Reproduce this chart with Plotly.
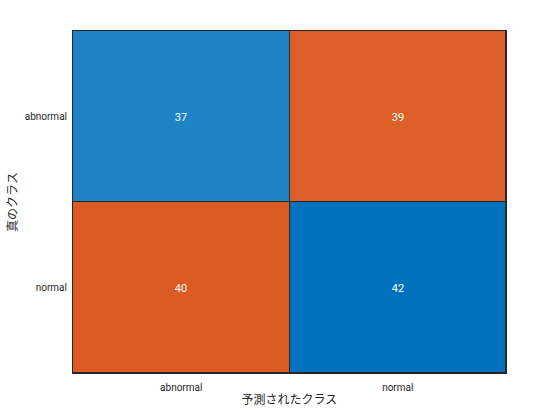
import plotly.graph_objects as go

classes = ["abnormal", "normal"]
counts = [[37, 39],
          [40, 42]]
x_title = "予測されたクラス"
y_title = "真のクラス"

n = len(classes)
diag = [[counts[i][j] if i == j else None for j in range(n)] for i in range(n)]
off = [[counts[i][j] if i != j else None for j in range(n)] for i in range(n)]
zmax = max(max(r) for r in counts)

blue_scale = [[0, "#ffffff"], [1, "#0072bd"]]
orange_scale = [[0, "#ffffff"], [1, "#d95319"]]

font = "Roboto, 'Noto Sans CJK JP', sans-serif"

fig = go.Figure()
for z, cs in ((diag, blue_scale), (off, orange_scale)):
    txt = [["" if v is None else str(v) for v in row] for row in z]
    fig.add_trace(go.Heatmap(
        x=classes, y=classes, z=z, text=txt,
        texttemplate="%{text}",
        textfont=dict(color="white", size=11, family=font),
        colorscale=cs, zmin=0, zmax=zmax, showscale=False,
        xgap=1, ygap=1, hoverinfo="skip"))

fig.update_layout(
    width=560, height=420,
    margin=dict(l=73, r=54, t=31, b=47),
    paper_bgcolor="white", plot_bgcolor="#262626",
    font=dict(family=font, size=10, color="#262626"),
    xaxis=dict(title=dict(text=x_title, font=dict(size=12), standoff=3),
               showline=True, mirror=True, linecolor="#262626", linewidth=1,
               ticks="", showgrid=False, zeroline=False, ticklabelstandoff=5,
               automargin=False),
    yaxis=dict(title=dict(text=y_title, font=dict(size=12), standoff=4),
               autorange="reversed",
               showline=True, mirror=True, linecolor="#262626", linewidth=1,
               ticks="", showgrid=False, zeroline=False, ticklabelstandoff=3,
               automargin=False),
)
fig.write_html("out.html")
